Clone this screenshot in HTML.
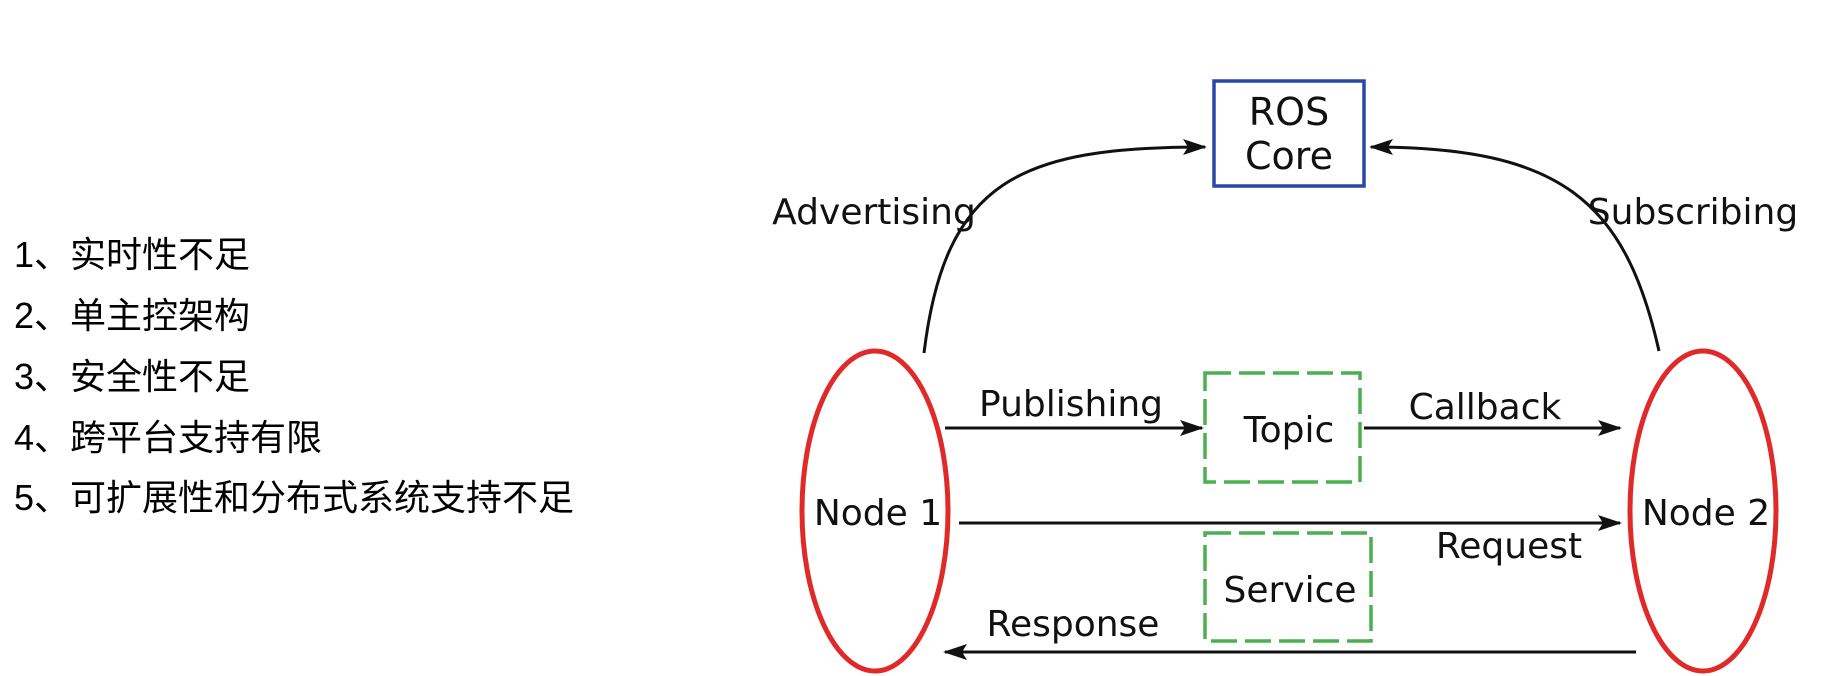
<!DOCTYPE html>
<html><head><meta charset="utf-8"><style>
html,body{margin:0;padding:0;background:#fff;}
body{width:1825px;height:676px;position:relative;overflow:hidden;}
.t{position:absolute;left:14px;font:36px "Liberation Sans","Noto Sans CJK SC",sans-serif;color:#000;line-height:40px;white-space:nowrap;}
</style></head><body>
<div class="t" style="top:235px">1、实时性不足</div>
<div class="t" style="top:296px">2、单主控架构</div>
<div class="t" style="top:357px">3、安全性不足</div>
<div class="t" style="top:418px">4、跨平台支持有限</div>
<div class="t" style="top:478px">5、可扩展性和分布式系统支持不足</div>
<svg width="1825" height="676" style="position:absolute;left:0;top:0" font-family="DejaVu Sans, sans-serif" font-size="36" fill="#111">
<defs>
<marker id="b" markerWidth="24" markerHeight="16" refX="22" refY="8" orient="auto" markerUnits="userSpaceOnUse"><path d="M0,0 L24,8 L0,16 L5,8 z" fill="#111"/></marker></defs>
<rect x="1214" y="81" width="150" height="105" fill="none" stroke="#2a47a8" stroke-width="3.5"/>
<text x="1289" y="125" text-anchor="middle" font-size="38">ROS</text>
<text x="1289" y="169" text-anchor="middle" font-size="38">Core</text>
<g stroke="#111" stroke-width="3" fill="none">
<path d="M924,353 C945,180 1020,147 1205,147" marker-end="url(#b)"/>
<path d="M1659,351 C1625,200 1560,147 1371,147" marker-end="url(#b)"/>
<path d="M945,428 L1202,428" marker-end="url(#b)"/>
<path d="M1364,428 L1620,428" marker-end="url(#b)"/>
<path d="M959,523 L1620,523" marker-end="url(#b)"/>
<path d="M1636,652 L945,652" marker-end="url(#b)"/>
</g>
<g fill="none" stroke="#4caf50" stroke-width="3.5" stroke-dasharray="26,8">
<rect x="1205" y="373" width="155" height="109"/>
<rect x="1205" y="533" width="166" height="108"/>
</g>
<text x="1289" y="442" text-anchor="middle">Topic</text>
<text x="1290" y="602" text-anchor="middle">Service</text>
<ellipse cx="875" cy="511" rx="73" ry="160" fill="none" stroke="#e02a2a" stroke-width="5"/>
<ellipse cx="1703" cy="511" rx="73" ry="160" fill="none" stroke="#e02a2a" stroke-width="5"/>
<text x="878" y="525" text-anchor="middle">Node 1</text>
<text x="1706" y="525" text-anchor="middle">Node 2</text>
<text x="874" y="224" text-anchor="middle">Advertising</text>
<text x="1693" y="224" text-anchor="middle">Subscribing</text>
<text x="1071" y="416" text-anchor="middle">Publishing</text>
<text x="1485" y="419" text-anchor="middle">Callback</text>
<text x="1509" y="558" text-anchor="middle">Request</text>
<text x="1073" y="636" text-anchor="middle">Response</text>
</svg>
</body></html>
